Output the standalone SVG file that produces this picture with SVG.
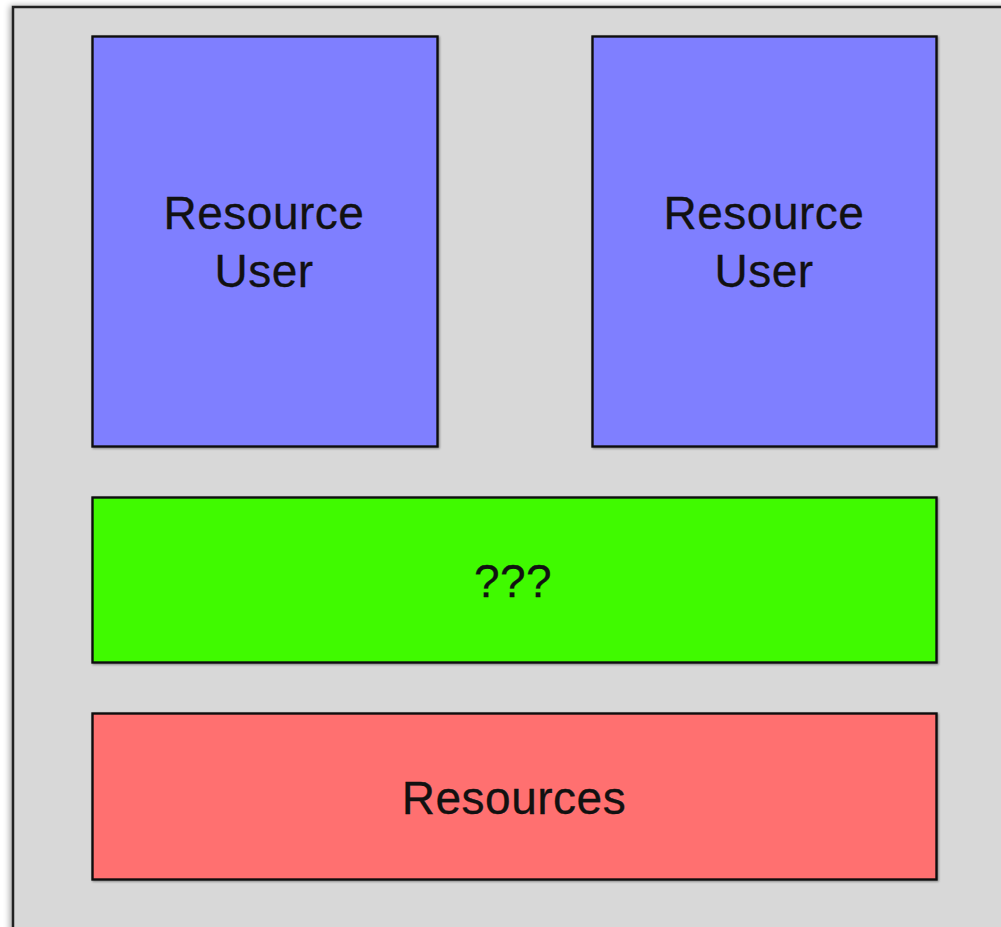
<svg xmlns="http://www.w3.org/2000/svg" width="1001" height="927" viewBox="0 0 1001 927">
  <defs>
    <filter id="shadow" x="-5%" y="-5%" width="110%" height="110%">
      <feGaussianBlur in="SourceAlpha" stdDeviation="3"/>
      <feOffset dx="-2" dy="0" result="b"/>
      <feComponentTransfer><feFuncA type="linear" slope="0.35"/></feComponentTransfer>
      <feMerge><feMergeNode/><feMergeNode in="SourceGraphic"/></feMerge>
    </filter>
    <filter id="boxshadow" x="-5%" y="-5%" width="110%" height="110%">
      <feGaussianBlur in="SourceAlpha" stdDeviation="1"/>
      <feOffset dx="1" dy="1" result="b"/>
      <feComponentTransfer><feFuncA type="linear" slope="0.4"/></feComponentTransfer>
      <feMerge><feMergeNode/><feMergeNode in="SourceGraphic"/></feMerge>
    </filter>
  </defs>
  <style>
    .box { stroke: #111; stroke-width: 2.4; filter: url(#boxshadow); }
    .label { font-family: "Liberation Sans", Arial, Helvetica, sans-serif; font-size: 46px; fill: #111; stroke: #111; stroke-width: 0.3; text-anchor: middle; letter-spacing: 0.5px; }
  </style>
  <rect x="0" y="0" width="1001" height="927" fill="#ffffff"/>
  <g id="container">
    <rect x="13" y="7" width="1000" height="940" fill="#d8d8d8" stroke="#222" stroke-width="2.5" filter="url(#shadow)"/>
  </g>
  <g id="user-left">
    <rect class="box" x="92.5" y="36.5" width="345" height="410" fill="#7f7fff"/>
    <text class="label" x="264" y="229">Resource</text>
    <text class="label" x="264" y="287">User</text>
  </g>
  <g id="user-right">
    <rect class="box" x="592.5" y="36.5" width="344" height="410" fill="#7f7fff"/>
    <text class="label" x="764" y="229">Resource</text>
    <text class="label" x="764" y="287">User</text>
  </g>
  <g id="middle">
    <rect class="box" x="92.5" y="497.5" width="844" height="165" fill="#3ffa00"/>
    <text class="label" x="513" y="597">???</text>
  </g>
  <g id="resources">
    <rect class="box" x="92.5" y="713.5" width="844" height="166" fill="#ff6f6f"/>
    <text class="label" x="514" y="814">Resources</text>
  </g>
  <g id="connectors"></g>
</svg>
